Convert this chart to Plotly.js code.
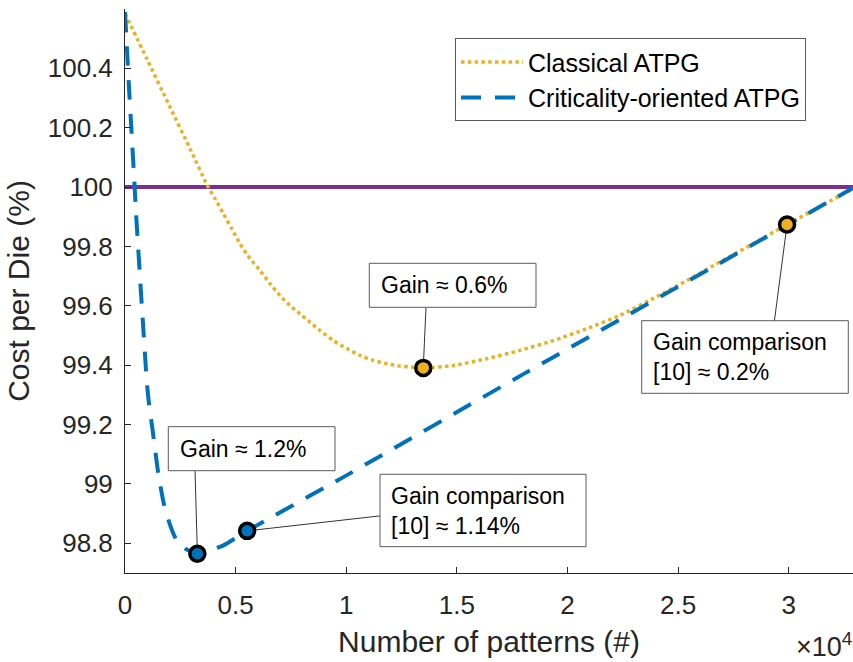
<!DOCTYPE html>
<html>
<head>
<meta charset="utf-8">
<script src="https://cdn.plot.ly/plotly-3.0.1.min.js"></script>
<style>html,body{margin:0;padding:0;background:#fff;}#chart{width:853px;height:662px;}</style>
</head>
<body>
<div id="chart"></div>
<script>
// ---- data ----
const classicalX = [0, 1000, 2000, 3000, 3690, 4070, 4450, 4820, 5200, 5650, 6100, 6550, 7000, 7460, 7910, 8360, 8810, 9420, 10020, 10620, 11230, 11830, 12430, 13030, 13480, 14840, 16350, 17850, 19360, 20870, 22370, 23880, 25390, 26890, 28400, 29920, 32900];
const classicalY = [100.585, 100.43, 100.275, 100.12, 100.01, 99.961, 99.91, 99.86, 99.809, 99.759, 99.719, 99.675, 99.635, 99.601, 99.573, 99.545, 99.517, 99.483, 99.456, 99.433, 99.416, 99.405, 99.397, 99.393, 99.391, 99.399, 99.422, 99.45, 99.483, 99.523, 99.568, 99.625, 99.685, 99.748, 99.81, 99.874, 99.995];

const critX = [0, 100, 200, 300, 400, 500, 600, 700, 800, 900, 1000, 1100, 1250, 1500, 1750, 2000, 2300, 2700, 3270, 3800, 4450, 5520, 9870, 18000, 30000, 32900];
const critY = [100.59, 100.45, 100.31, 100.18, 100.05, 99.91, 99.79, 99.67, 99.555, 99.44, 99.33, 99.26, 99.18, 99.037, 98.935, 98.87, 98.815, 98.783, 98.765, 98.775, 98.793, 98.842, 99.023, 99.37, 99.875, 99.997];

const refX = [0, 32900];
const refY = [100, 100];

const classicalMarkX = [13480, 29920];
const classicalMarkY = [99.391, 99.874];
const critMarkX = [3270, 5520];
const critMarkY = [98.765, 98.842];

const xTickVals = [0, 5000, 10000, 15000, 20000, 25000, 30000];
const xTickText = ['0', '0.5', '1', '1.5', '2', '2.5', '3'];
const yTickVals = [98.8, 99, 99.2, 99.4, 99.6, 99.8, 100, 100.2, 100.4];
const yTickText = ['98.8', '99', '99.2', '99.4', '99.6', '99.8', '100', '100.2', '100.4'];

const seriesNames = ['Classical ATPG', 'Criticality-oriented ATPG'];
const boxTexts = ['Gain \u2248 1.2%', 'Gain comparison<br>[10] \u2248 1.14%', 'Gain \u2248 0.6%', 'Gain comparison<br>[10] \u2248 0.2%'];

// ---- layout helpers (pixel geometry of the 853x662 figure) ----
const L = 125, T = 9, W = 728, H = 564;
const px2paperX = p => (p - L) / W;
const px2paperY = p => (T + H - p) / H;

const FONT = '"Liberation Sans", Arial, sans-serif';
const ORANGE = '#EDB120', BLUE = '#0072BD', PURPLE = '#7E2F8E', AX = '#262626';

const traces = [
  {x: refX, y: refY, mode: 'lines', line: {color: PURPLE, width: 4}, showlegend: false, hoverinfo: 'skip'},
  {x: classicalX, y: classicalY, name: seriesNames[0], mode: 'lines', line: {color: ORANGE, width: 3.5, dash: '3.5px,3.3px', shape: 'spline', smoothing: 0.6}},
  {x: critX, y: critY, name: seriesNames[1], mode: 'lines', line: {color: BLUE, width: 4, dash: '20px,14px', shape: 'spline', smoothing: 0.5}},
  {x: classicalMarkX, y: classicalMarkY, mode: 'markers', showlegend: false, marker: {size: 15, color: ORANGE, line: {color: '#000', width: 3.5}}},
  {x: critMarkX, y: critMarkY, mode: 'markers', showlegend: false, marker: {size: 15, color: BLUE, line: {color: '#000', width: 3.5}}}
];

// text boxes (pixel rectangles) and connector tails (pixel offsets from the marker, y down)
const boxes = [
  {x0: 168.3, x1: 335, y0: 426.7, y1: 470.7, tx: 178},
  {x0: 380, x1: 586, y0: 474.3, y1: 546.7, tx: 389},
  {x0: 369.3, x1: 536, y0: 263.3, y1: 307.3, tx: 379},
  {x0: 641.7, x1: 848.3, y0: 320.7, y1: 393.3, tx: 651}
];
const connectors = [
  {x: critMarkX[0], y: critMarkY[0], ax: -2.3, ay: -82.6},
  {x: critMarkX[1], y: critMarkY[1], ax: 133.3, ay: -15},
  {x: classicalMarkX[0], y: classicalMarkY[0], ax: 2.7, ay: -60},
  {x: classicalMarkX[1], y: classicalMarkY[1], ax: -12.7, ay: 96.7}
];

const shapes = [];
connectors.forEach(c => shapes.push({
  type: 'line', xref: 'x', yref: 'y', xsizemode: 'pixel', ysizemode: 'pixel',
  xanchor: c.x, yanchor: c.y, x0: 0, y0: 0, x1: c.ax, y1: -c.ay,
  line: {color: '#333', width: 1}, layer: 'below'
}));
boxes.forEach(b => shapes.push({
  type: 'rect', xref: 'paper', yref: 'paper',
  x0: px2paperX(b.x0), x1: px2paperX(b.x1), y0: px2paperY(b.y1), y1: px2paperY(b.y0),
  line: {color: '#5a5a5a', width: 1}, fillcolor: '#ffffff', layer: 'above'
}));

const annotations = [];
boxes.forEach((b, i) => annotations.push({
  xref: 'paper', yref: 'paper', x: px2paperX(b.tx), y: px2paperY((b.y0 + b.y1) / 2),
  xanchor: 'left', yanchor: 'middle', align: 'left', showarrow: false,
  text: boxTexts[i], font: {family: FONT, size: 23, color: '#000'}
}));
annotations.push({
  xref: 'paper', yref: 'paper', x: 1.002, y: px2paperY(645), xanchor: 'right', yanchor: 'middle',
  showarrow: false, text: '\u00d710<sup>4</sup>', font: {family: FONT, size: 27, color: AX}
});

const layout = {
  width: 853, height: 662,
  margin: {l: L, r: 853 - L - W, t: T, b: 662 - T - H},
  paper_bgcolor: '#fff', plot_bgcolor: '#fff',
  font: {family: FONT, color: AX},
  showlegend: true,
  legend: {
    x: px2paperX(455), y: px2paperY(38.3), xanchor: 'left', yanchor: 'top',
    bgcolor: '#fff', bordercolor: '#5a5a5a', borderwidth: 1, itemwidth: 62,
    font: {family: FONT, size: 25, color: '#000'}
  },
  xaxis: {
    range: [0, 32900], tickvals: xTickVals, ticktext: xTickText,
    ticks: 'inside', ticklen: 6, tickcolor: AX, showline: true, linecolor: AX, linewidth: 1,
    showgrid: false, zeroline: false, tickfont: {family: FONT, size: 26, color: AX},
    ticklabelstandoff: 9,
    title: {text: 'Number of patterns (#)', font: {family: FONT, size: 30, color: AX}, standoff: 11}
  },
  yaxis: {
    range: [98.7, 100.6], tickvals: yTickVals, ticktext: yTickText,
    ticks: 'inside', ticklen: 6, tickcolor: AX, showline: true, linecolor: AX, linewidth: 1,
    showgrid: false, zeroline: false, tickfont: {family: FONT, size: 26, color: AX},
    ticklabelstandoff: 6,
    title: {text: 'Cost per Die (%)', font: {family: FONT, size: 30, color: AX}, standoff: 9}
  },
  shapes: shapes,
  annotations: annotations
};

Plotly.newPlot('chart', traces, layout, {staticPlot: true, displayModeBar: false});
</script>
</body>
</html>
